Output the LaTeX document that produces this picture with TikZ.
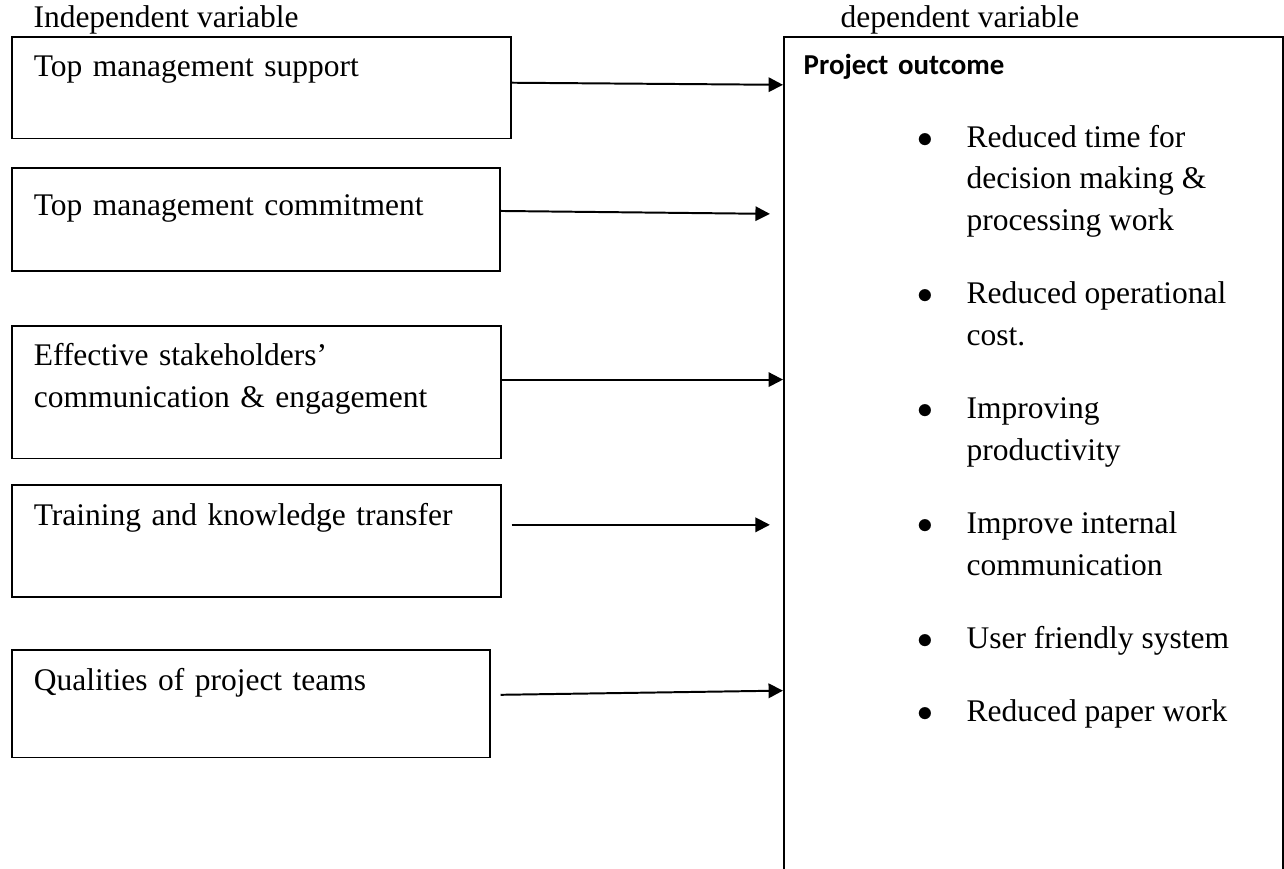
\documentclass[tikz,border=0pt]{standalone}
\usepackage{fontspec}
\setmainfont{Liberation Serif}
\newfontfamily\calibri{Carlito}
\usepackage{tikz}
\usetikzlibrary{arrows.meta,positioning}

\begin{document}
\begin{tikzpicture}[x=0.381pt, y=-0.381pt,
  every node/.style={font=\fontsize{12}{15.9}\selectfont},
  varbox/.style={draw, line width=0.6pt, anchor=north west, inner ysep=0pt, inner xsep=8.4pt, align=left},
  flow/.style={-{Triangle[length=5.5pt,width=5.5pt]}, line width=0.75pt}]
  \useasboundingbox (0,0) rectangle (1284,868);

  % headings
  \node[anchor=base west, inner sep=0pt] (indep) at (33,28) {Independent variable};
  \node[anchor=base west, inner sep=0pt] (dep) at (840,28) {dependent variable};

  % independent variables
  \node[varbox, text width=173.3pt, text height=15.2pt, text depth=23.6pt] (support) at (11,36) {Top management support};
  \node[varbox, text width=169.1pt, text height=18.3pt, text depth=21.0pt] (commit) at (11,167) {Top management commitment};
  \node[varbox, text width=169.5pt, text height=15.2pt, text depth=35.4pt] (engage) at (11,325) {Effective stakeholders’\\communication \& engagement};
  \node[varbox, text width=169.5pt, text height=15.6pt, text depth=27.1pt] (training) at (11,484) {Training and knowledge transfer};
  \node[varbox, text width=165.3pt, text height=15.6pt, text depth=25.5pt] (teams) at (11,649) {Qualities of project teams};

  % dependent variable
  \node[varbox, inner xsep=7.6pt, text width=174.9pt, text height=14.5pt, text depth=307.1pt,
    font=\calibri\bfseries\fontsize{11}{13}\selectfont] (outcome) at (783,36) {Project outcome};
  \node[anchor=base west, inner sep=0pt] (items) at (917,147) {%
    \begin{tabular}[t]{@{}p{18.7pt}@{}l@{}}
      $\bullet$ & Reduced time for\\
      & decision making \&\\
      & processing work\\[12pt]
      $\bullet$ & Reduced operational\\
      & cost.\\[12pt]
      $\bullet$ & Improving\\
      & productivity\\[12pt]
      $\bullet$ & Improve internal\\
      & communication\\[12pt]
      $\bullet$ & User friendly system\\[12pt]
      $\bullet$ & Reduced paper work
    \end{tabular}};

  % arrows
  \draw[flow] ([yshift=1.9pt]support.east) -- ([yshift=1.1pt]support.east -| outcome.west);
  \draw[flow] ([yshift=3.2pt]commit.east) -- ([xshift=-5pt,yshift=2.1pt]commit.east -| outcome.west);
  \draw[flow] ([yshift=4.8pt]engage.east) -- ([yshift=4.8pt]engage.east -| outcome.west);
  \draw[flow] ([xshift=3.8pt,yshift=6.1pt]training.east) -- ([xshift=-5pt,yshift=6.1pt]training.east -| outcome.west);
  \draw[flow] ([xshift=3.8pt,yshift=3.4pt]teams.east) -- ([yshift=5pt]teams.east -| outcome.west);
\end{tikzpicture}
\end{document}
